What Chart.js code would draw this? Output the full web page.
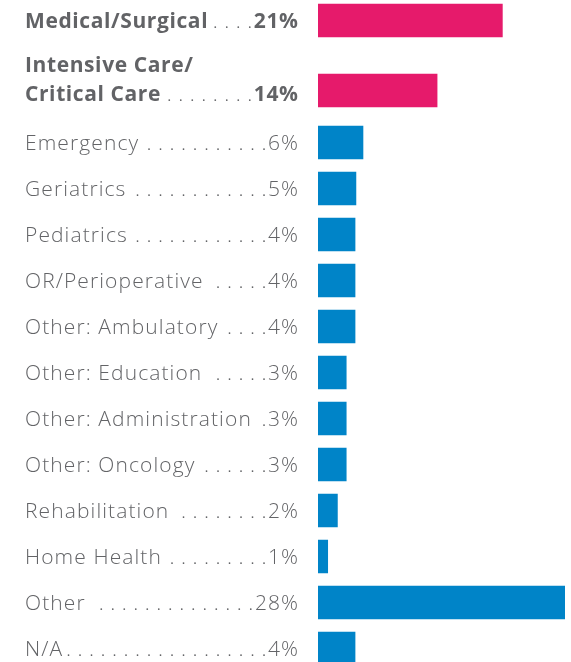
<!DOCTYPE html>
<html>
<head>
<meta charset="utf-8">
<script src="https://cdn.jsdelivr.net/npm/chart.js@4.4.1/dist/chart.umd.min.js"></script>
<style>
  html, body { margin: 0; padding: 0; background: #fff; overflow: hidden; }
  #wrap { position: relative; width: 571px; height: 662px; }
  .box { position: absolute; left: 0; width: 571px; }
  #topBox { top: -15px; height: 141px; }
  #restBox { top: 119px; height: 553px; }
</style>
</head>
<body>
<div id="wrap">
  <div class="box" id="topBox"><canvas id="topChart"></canvas></div>
  <div class="box" id="restBox"><canvas id="restChart"></canvas></div>
</div>
<script>
// ================= DATA =================
// highlighted rows (pink, bold)
const topCategories = [["Medical/Surgical"], ["Intensive Care/", "Critical Care"]];
const topPercents = ["21%", "14%"];
const topValues = [20.9, 13.5];

// remaining rows (blue)
const restCategories = [
  ["Emergency"], ["Geriatrics"], ["Pediatrics"], ["OR/Perioperative"],
  ["Other: Ambulatory"], ["Other: Education"], ["Other: Administration"],
  ["Other: Oncology"], ["Rehabilitation"], ["Home Health"], ["Other"], ["N/A"]
];
const restPercents = ["6%", "5%", "4%", "4%", "4%", "3%", "3%", "3%", "2%", "1%", "28%", "4%"];
const restValues = [5.1, 4.3, 4.2, 4.2, 4.2, 3.2, 3.2, 3.2, 2.2, 1.1, 28, 4.2];

const axisMax = 28;

// ================= STYLE =================
const PINK = "#e61a6b";
const BLUE = "#0084c8";
const TEXT = "#636467";
const BOLD_TEXT = "#626366";
const LIGHT_FONT = '300 21px "Open Sans", Lato, sans-serif';
const BOLD_FONT = '700 21px "Open Sans", Lato, sans-serif';
const LABEL_X = 25;
const VALUE_RIGHT = 298;
const DOT_STEP = 11.5;
const LINE_GAP = 28.5;

// ================= LEADER LABELS =================
const leaderLabels = {
  id: "leaderLabels",
  afterDatasetsDraw(chart, args, opts) {
    const ctx = chart.ctx;
    const y = chart.scales.y;
    const cats = opts.categories;
    const spacing = opts.bold ? 0.6 : 1.1;
    ctx.save();
    ctx.textBaseline = "alphabetic";
    cats.forEach((lines, i) => {
      const base = y.getPixelForValue(i) + 7.5 + (lines.length > 1 ? 2.5 : 0);
      ctx.font = opts.bold ? BOLD_FONT : LIGHT_FONT;
      ctx.fillStyle = opts.bold ? BOLD_TEXT : TEXT;
      ctx.letterSpacing = spacing + "px";

      // label text (multi-line stacks upward)
      ctx.textAlign = "left";
      lines.forEach((line, k) => {
        ctx.fillText(line, LABEL_X, base - (lines.length - 1 - k) * LINE_GAP);
      });
      const textRight = LABEL_X + ctx.measureText(lines[lines.length - 1]).width - spacing;

      // value text (letter spacing leaves a trailing gap, so shift right)
      ctx.textAlign = "right";
      ctx.fillText(opts.percents[i], VALUE_RIGHT + spacing, base);
      const valueLeft = VALUE_RIGHT + spacing - ctx.measureText(opts.percents[i]).width;

      // dot leader, aligned from the right
      ctx.font = LIGHT_FONT;
      ctx.letterSpacing = "0px";
      ctx.fillStyle = TEXT;
      ctx.textAlign = "center";
      for (let x = valueLeft - 4; x > textRight + 6; x -= DOT_STEP) {
        ctx.fillText(".", x, base);
      }
    });
    ctx.restore();
  }
};

function makeChart(id, categories, values, percents, color, bold) {
  return new Chart(document.getElementById(id), {
    type: "bar",
    data: {
      labels: categories.map(c => c.join(" ")),
      datasets: [{
        data: values,
        backgroundColor: color,
        borderWidth: 0,
        barThickness: 33
      }]
    },
    options: {
      indexAxis: "y",
      responsive: true,
      maintainAspectRatio: false,
      animation: false,
      layout: { padding: { left: 318, right: 6, top: 0.5, bottom: 0.5 } },
      scales: {
        x: { display: false, min: 0, max: axisMax },
        y: { display: false }
      },
      plugins: {
        legend: { display: false },
        tooltip: { enabled: false },
        leaderLabels: { categories: categories, percents: percents, bold: bold }
      }
    },
    plugins: [leaderLabels]
  });
}

makeChart("topChart", topCategories, topValues, topPercents, PINK, true);
makeChart("restChart", restCategories, restValues, restPercents, BLUE, false);
</script>
</body>
</html>
